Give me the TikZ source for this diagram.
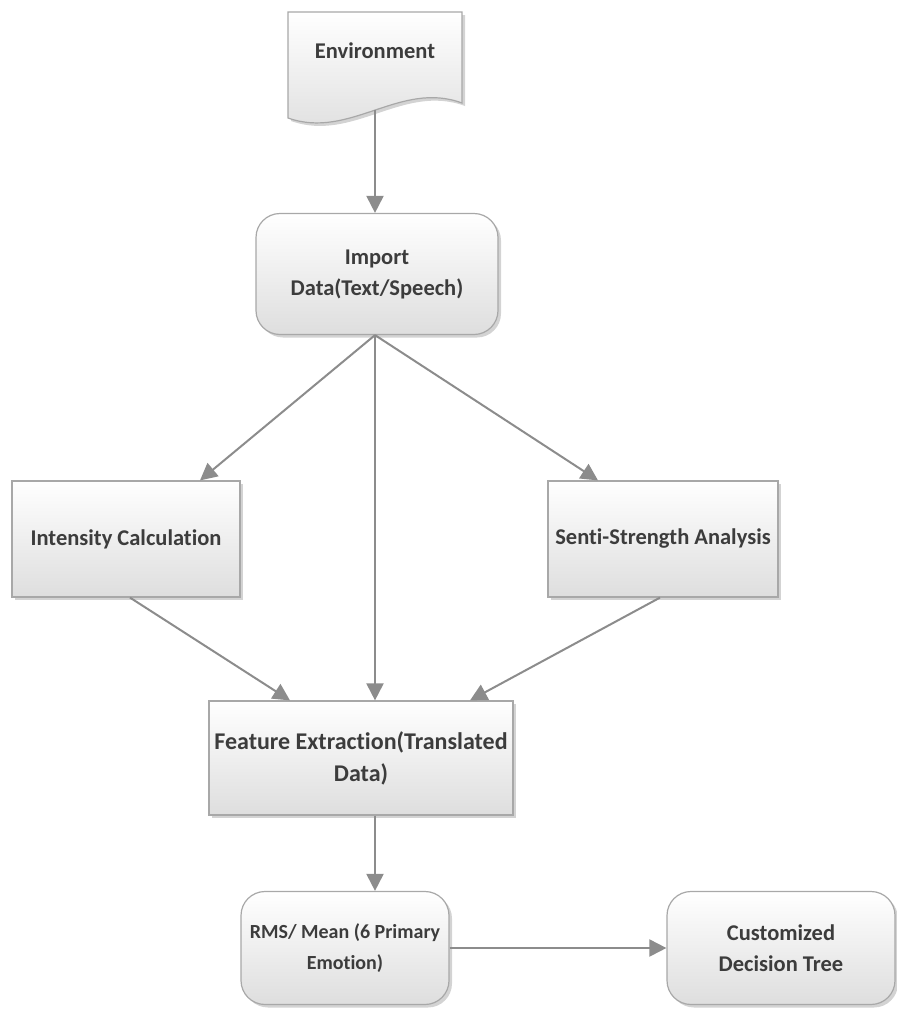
\documentclass[tikz,border=0pt]{standalone}
\usepackage{fontspec}
\setmainfont{Carlito}[Ligatures={NoCommon,NoContextual}]
\usetikzlibrary{arrows.meta,shadows}
\definecolor{linegray}{HTML}{8C8C8C}
\definecolor{boxline}{HTML}{A8A8A8}
\definecolor{txtgray}{HTML}{3C3C3C}
\tikzset{
  boxfont/.style={text=txtgray,font=\fontsize{22.5}{31}\selectfont\bfseries},
  box/.style={draw=boxline,line width=1.2pt,top color=white,bottom color=black!13,
    drop shadow={shadow xshift=3pt,shadow yshift=-3pt,opacity=.35},
    inner sep=0pt,align=center,boxfont},
  rbox/.style={box,rounded corners=24pt},
  flow/.style={draw=linegray,line width=2pt,-{Triangle[length=17pt,width=17pt]}}
}
\begin{document}
\begin{tikzpicture}[x=1pt,y=-1pt]
  \useasboundingbox (0,0) rectangle (897,1010);
  % document shape on top
  \draw[box] (288,12) -- (462,12) -- (462,103) .. controls (400,80) and (350,140) .. (288,118) -- cycle;
  \node[boxfont] (env) at (375,51) {Environment};
  \coordinate (envb) at (375,110);

  \node[rbox,minimum width=242pt,minimum height=121pt] (imp) at (377,274) {Import\\Data(Text/Speech)};
  \node[box,minimum width=228pt,minimum height=116pt] (int) at (126,539) {Intensity Calculation};
  \node[box,minimum width=230pt,minimum height=116pt] (sen) at (663,539) {Senti-Strength Analysis};
  \node[box,minimum width=304pt,minimum height=114pt,font=\fontsize{24}{32}\selectfont\bfseries] (fea) at (361,758) {Feature Extraction(Translated\\Data)};
  \node[rbox,minimum width=208pt,minimum height=113pt,font=\fontsize{20}{31}\selectfont\bfseries] (rms) at (345,948) {RMS/ Mean (6 Primary\\Emotion)};
  \node[rbox,minimum width=228pt,minimum height=113pt] (tree) at (781,948) {Customized\\Decision Tree};

  \draw[flow] (envb) -- (imp.north -| envb);
  \draw[flow] ([xshift=-2pt]imp.south) -- ([xshift=74pt]int.north);
  \draw[flow] ([xshift=-2pt]imp.south) -- ([xshift=-65pt]sen.north);
  \draw[flow] ([xshift=-2pt]imp.south) -- ([xshift=14pt]fea.north);
  \draw[flow] ([xshift=4pt]int.south) -- ([xshift=-71pt]fea.north);
  \draw[flow] ([xshift=-3pt]sen.south) -- ([xshift=109pt]fea.north);
  \draw[flow] ([xshift=30pt]rms.north |- fea.south) -- ([xshift=30pt]rms.north);
  \draw[flow] (rms.east) -- (tree.west);
\end{tikzpicture}
\end{document}
